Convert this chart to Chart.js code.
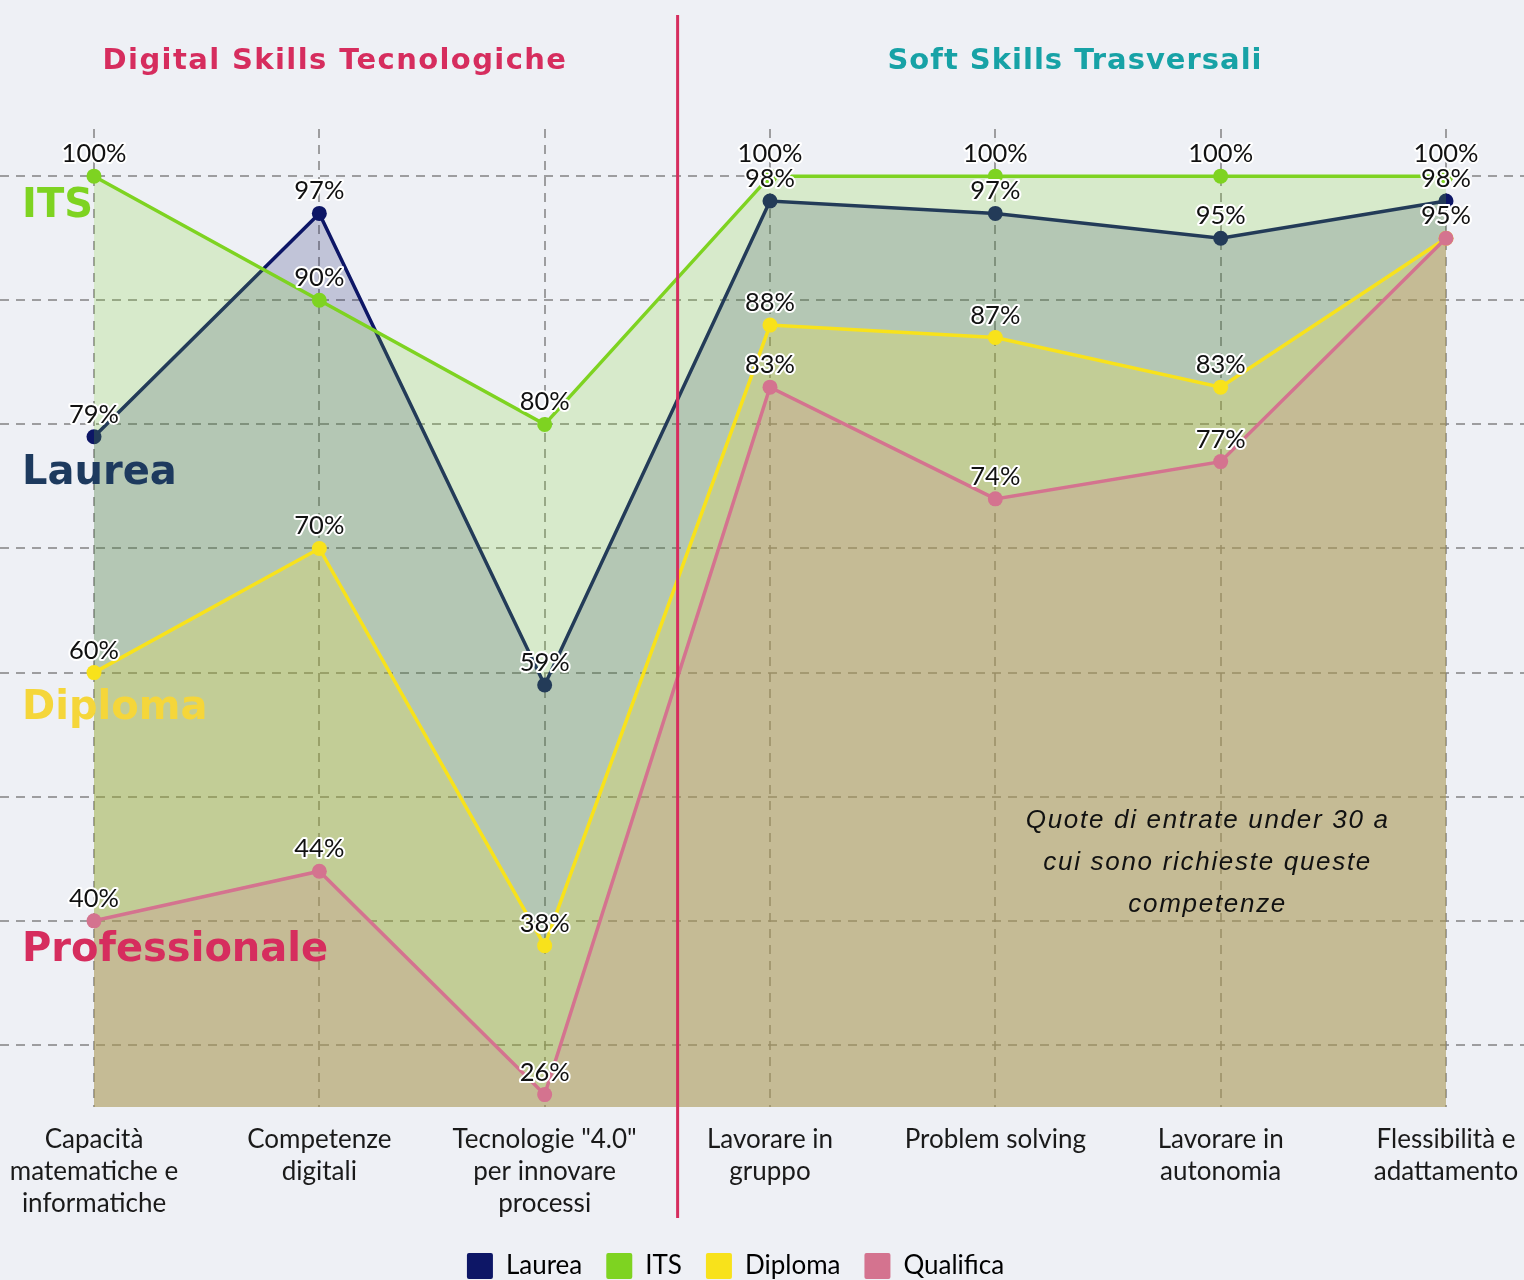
<!DOCTYPE html>
<html>
<head>
<meta charset="utf-8">
<script src="https://cdn.jsdelivr.net/npm/chart.js@4"></script>
<style>
  html, body { margin: 0; padding: 0; background: #eef0f5; overflow: hidden; }
  #wrap { width: 1524px; height: 1280px; position: relative; }
</style>
</head>
<body>
<div id="wrap"><canvas id="chart"></canvas></div>
<script>
// Categories (x axis)
const categories = [
    ['Capacità', 'matematiche e', 'informatiche'],
    ['Competenze', 'digitali'],
    ['Tecnologie "4.0"', 'per innovare', 'processi'],
    ['Lavorare in', 'gruppo'],
    ['Problem solving'],
    ['Lavorare in', 'autonomia'],
    ['Flessibilità e', 'adattamento']
];

// Series values (% of under 30 hires)
const laurea    = [79, 97, 59, 98, 97, 95, 98];
const its       = [100, 90, 80, 100, 100, 100, 100];
const diploma   = [60, 70, 38, 88, 87, 83, 95];
const qualifica = [40, 44, 26, 83, 74, 77, 95];

// Horizontal reference lines
const gridValues = [30, 40, 50, 60, 70, 80, 90, 100];

// Side labels for each level
const sideLabels = [
    { text: 'ITS', value: 96.7, color: '#7ed321' },
    { text: 'Laurea', value: 75.2, color: '#1d3a5e' },
    { text: 'Diploma', value: 56.3, color: '#f5d63a' },
    { text: 'Professionale', value: 36.75, color: '#d62d5e' }
];

const NAVY = '#0d1666';
const GREEN = '#7ed321';
const YELLOW = '#f8e21b';
const PINK = '#d4738f';
const GRID = 'rgba(130, 130, 130, 0.75)';

function alpha(hex, a) {
    const n = parseInt(hex.slice(1), 16);
    return `rgba(${(n >> 16) & 255}, ${(n >> 8) & 255}, ${n & 255}, ${a})`;
}

function makeSet(label, data, color, order) {
    return {
        label: label,
        data: data,
        borderColor: color,
        backgroundColor: alpha(color, 0.2),
        pointBackgroundColor: color,
        pointBorderWidth: 0,
        pointRadius: 7.5,
        borderWidth: 3.5,
        tension: 0,
        fill: 'start',
        clip: false,
        order: order
    };
}

// Horizontal dashed lines across the whole width
const backdrop = {
    id: 'backdrop',
    beforeDatasetsDraw(chart) {
        const ctx = chart.ctx;
        const y = chart.scales.y;
        ctx.save();
        ctx.strokeStyle = GRID;
        ctx.lineWidth = 2;
        ctx.setLineDash([9, 7]);
        gridValues.forEach(v => {
            const py = Math.round(y.getPixelForValue(v));
            ctx.beginPath();
            ctx.moveTo(0, py);
            ctx.lineTo(chart.width, py);
            ctx.stroke();
        });
        ctx.restore();
    }
};

const overlay = {
    id: 'overlay',
    afterDatasetsDraw(chart) {
        const ctx = chart.ctx;
        const x = chart.scales.x;
        const y = chart.scales.y;
        ctx.save();

        // side labels
        ctx.font = 'bold 40px "DejaVu Sans", sans-serif';
        ctx.textAlign = 'left';
        ctx.textBaseline = 'alphabetic';
        sideLabels.forEach(s => {
            ctx.fillStyle = s.color;
            ctx.fillText(s.text, 22, y.getPixelForValue(s.value));
        });

        // divider between the two groups
        const step = x.getPixelForValue(1) - x.getPixelForValue(0);
        const divX = x.getPixelForValue(2) + step * 0.59;
        ctx.strokeStyle = '#d62d5e';
        ctx.lineWidth = 3;
        ctx.beginPath();
        ctx.moveTo(divX, 15);
        ctx.lineTo(divX, 1218);
        ctx.stroke();

        // section titles
        ctx.font = 'bold 29px "DejaVu Sans", sans-serif';
        ctx.textAlign = 'center';
        ctx.letterSpacing = '1.4px';
        ctx.fillStyle = '#d62d5e';
        ctx.fillText('Digital Skills Tecnologiche', 335, 69);
        ctx.letterSpacing = '1px';
        ctx.fillStyle = '#17a2a6';
        ctx.fillText('Soft Skills Trasversali', 1075, 69);

        // note
        ctx.font = 'italic 26px "Liberation Sans", sans-serif';
        ctx.letterSpacing = '1.7px';
        ctx.fillStyle = '#111';
        const noteX = x.getPixelForValue(5) - 13;
        ['Quote di entrate under 30 a', 'cui sono richieste queste', 'competenze'].forEach((line, i) => {
            ctx.fillText(line, noteX, 828 + i * 42);
        });
        ctx.letterSpacing = '0px';

        // value labels
        ctx.font = '25.5px Lato, sans-serif';
        ctx.textAlign = 'center';
        ctx.lineJoin = 'round';
        chart.data.datasets.forEach((ds, di) => {
            const meta = chart.getDatasetMeta(di);
            meta.data.forEach((pt, i) => {
                const txt = ds.data[i] + '%';
                ctx.strokeStyle = '#fff';
                ctx.lineWidth = 4;
                ctx.strokeText(txt, pt.x, pt.y - 14);
                ctx.fillStyle = '#111';
                ctx.fillText(txt, pt.x, pt.y - 14);
            });
        });
        ctx.restore();
    }
};

new Chart(document.getElementById('chart'), {
    type: 'line',
    data: {
        labels: categories,
        datasets: [
            makeSet('Laurea', laurea, NAVY, 4),
            makeSet('ITS', its, GREEN, 3),
            makeSet('Diploma', diploma, YELLOW, 2),
            makeSet('Qualifica', qualifica, PINK, 1)
        ]
    },
    options: {
        responsive: true,
        maintainAspectRatio: false,
        animation: false,
        layout: {
            autoPadding: false,
            padding: { left: 25, right: 78, top: 129, bottom: -9 }
        },
        scales: {
            x: {
                offset: false,
                border: { display: false, dash: [9, 7] },
                grid: {
                    color: GRID,
                    lineWidth: 2,
                    drawTicks: false
                },
                ticks: {
                    autoSkip: false,
                    maxRotation: 0,
                    padding: 17,
                    color: '#1a1a1a',
                    font: { family: 'Lato', size: 26, lineHeight: 32 / 26 }
                },
                afterFit(scale) {
                    scale.height = 122;
                    scale.paddingLeft = 0;
                    scale.paddingRight = 0;
                }
            },
            y: {
                min: 25,
                max: 103.8,
                grid: { display: false },
                border: { display: false },
                ticks: { display: false },
                afterFit(scale) { scale.width = 69; }
            }
        },
        plugins: {
            legend: {
                position: 'bottom',
                labels: {
                    boxWidth: 26,
                    boxHeight: 26,
                    padding: 24,
                    color: '#111',
                    font: { family: 'Lato', size: 26 },
                    useBorderRadius: true,
                    borderRadius: 2,
                    generateLabels: chart => chart.data.datasets.map((ds, i) => ({
                        text: ds.label,
                        fillStyle: ds.borderColor,
                        strokeStyle: ds.borderColor,
                        lineWidth: 0,
                        hidden: false,
                        datasetIndex: i,
                        borderRadius: 2
                    }))
                }
            },
            tooltip: { enabled: false }
        }
    },
    plugins: [backdrop, overlay]
});
</script>
</body>
</html>
